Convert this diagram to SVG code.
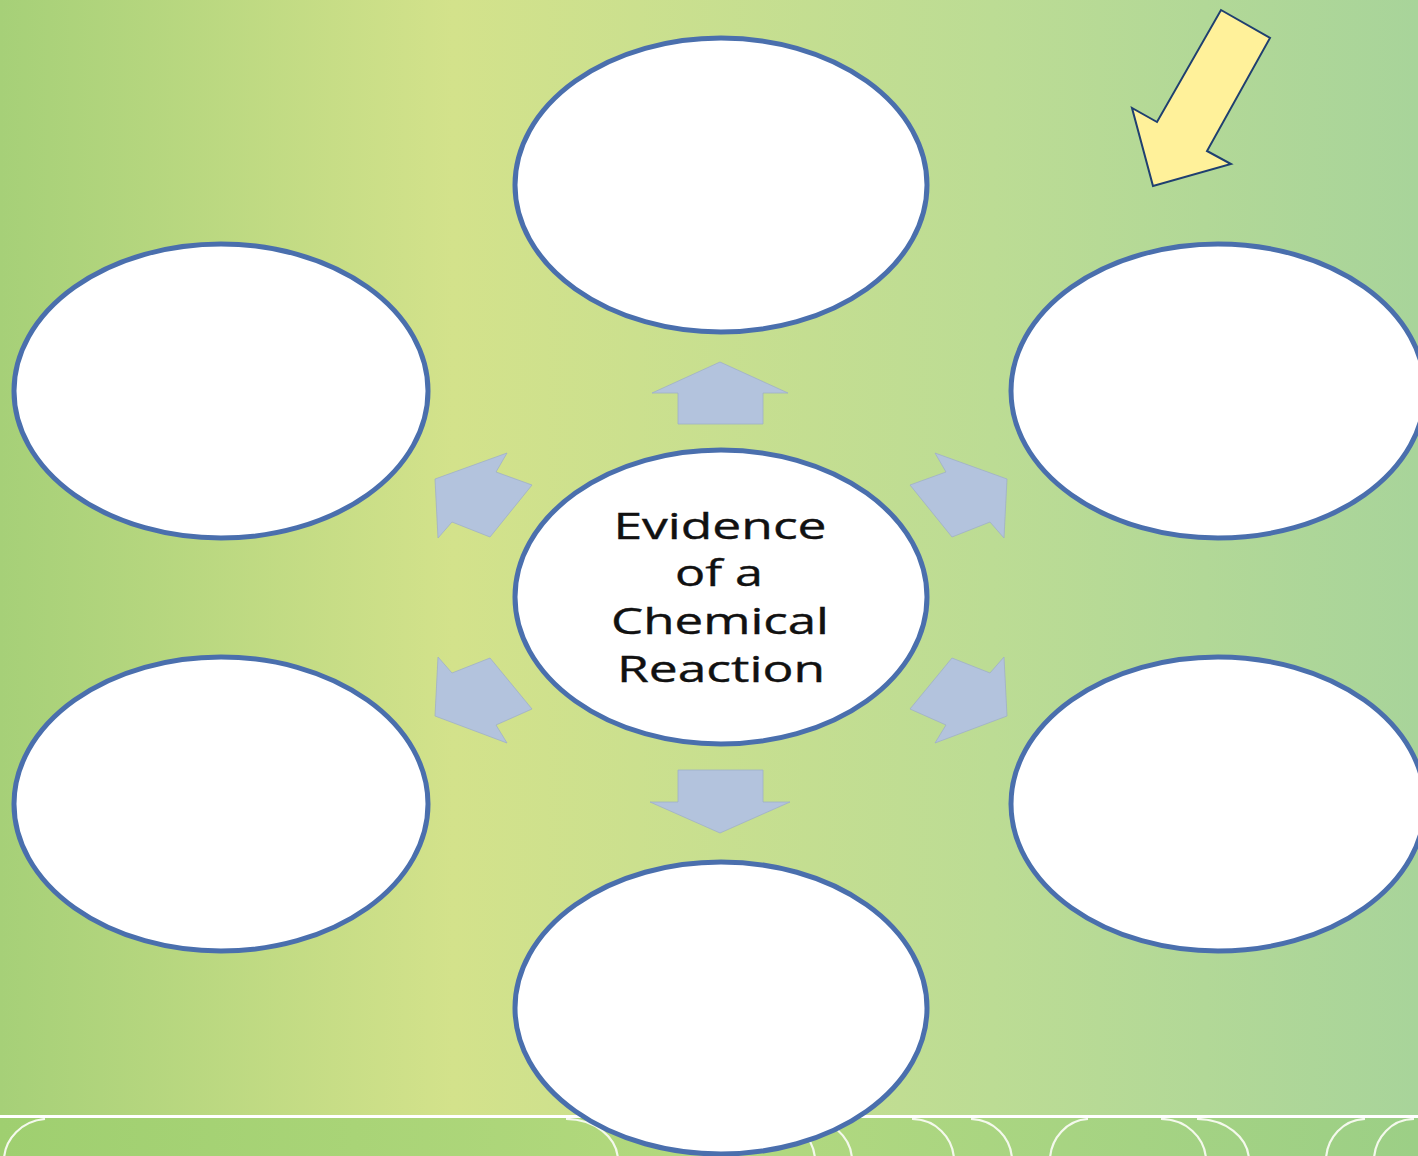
<svg xmlns="http://www.w3.org/2000/svg" width="1418" height="1156" viewBox="0 0 1418 1156">
  <defs>
    <linearGradient id="bg" x1="0" y1="0" x2="1418" y2="0" gradientUnits="userSpaceOnUse">
      <stop offset="0" stop-color="#a6d078"/>
      <stop offset="0.32" stop-color="#d3e28b"/>
      <stop offset="0.7" stop-color="#bcdc94"/>
      <stop offset="1" stop-color="#a8d49a"/>
    </linearGradient>
    <linearGradient id="band" x1="0" y1="0" x2="1418" y2="0" gradientUnits="userSpaceOnUse">
      <stop offset="0" stop-color="#9fcf70"/>
      <stop offset="0.5" stop-color="#b3d97e"/>
      <stop offset="1" stop-color="#9ccf86"/>
    </linearGradient>
    <clipPath id="bandClip">
      <rect x="0" y="1118" width="1418" height="38"/>
    </clipPath>
    <style>
      .node { fill: #ffffff; stroke: #4a6fad; stroke-width: 5; }
      .block { fill: #b3c3dd; stroke: #9fb0c8; stroke-width: 0.8; }
      .arc { fill: none; stroke: #f4f9ec; stroke-width: 2.2; }
      .label { font-family: "Open Sans", "Noto Sans", sans-serif; font-size: 37px; fill: #111111; stroke: #111111; stroke-width: 0.4; text-anchor: middle; }
    </style>
  </defs>

  <!-- background -->
  <rect x="0" y="0" width="1418" height="1156" fill="url(#bg)"/>

  <!-- decorative footer band -->
  <g id="footer">
    <rect x="0" y="1118" width="1418" height="38" fill="url(#band)"/>
    <line x1="0" y1="1116.5" x2="1418" y2="1116.5" stroke="#ffffff" stroke-width="3"/>
    <g clip-path="url(#bandClip)">
      <path class="arc" d="M45 1119 A45 42 0 0 0 4 1160"/>
      <path class="arc" d="M566 1119 A52 42 0 0 1 618 1160"/>
      <path class="arc" d="M770 1119 A45 42 0 0 1 815 1160"/>
      <path class="arc" d="M805 1119 A45 42 0 0 1 852 1160"/>
      <path class="arc" d="M912 1119 A42 42 0 0 1 954 1160"/>
      <path class="arc" d="M971 1119 A42 42 0 0 1 1012 1160"/>
      <path class="arc" d="M1088 1119 A40 42 0 0 0 1050 1160"/>
      <path class="arc" d="M1161 1119 A45 42 0 0 1 1206 1160"/>
      <path class="arc" d="M1197 1119 A52 42 0 0 1 1249 1160"/>
      <path class="arc" d="M1365 1119 A40 42 0 0 0 1326 1160"/>
      <path class="arc" d="M1414 1119 A40 42 0 0 0 1374 1160"/>
    </g>
  </g>

  <!-- block arrows from the centre to each outer node -->
  <g id="connectors">
    <polygon class="block" points="720,362 788,393 763,393 763,424 678,424 678,393 652,393"/>
    <polygon class="block" points="678,770 763,770 763,802 790,802 720,833 650,802 678,802"/>
    <polygon class="block" points="507,453 496,472 532,485 490,537 452,522 438,538 435,479"/>
    <polygon class="block" points="438,657 452,673 490,658 532,709 496,725 507,743 435,716"/>
    <polygon class="block" points="935,453 946,472 910,485 952,537 990,522 1004,538 1007,479"/>
    <polygon class="block" points="1004,657 990,673 952,658 910,709 946,725 935,743 1007,716"/>
  </g>

  <!-- outer nodes -->
  <g id="node-top"><ellipse class="node" cx="721" cy="185" rx="206" ry="147"/></g>
  <g id="node-upper-left"><ellipse class="node" cx="221" cy="391" rx="207" ry="147"/></g>
  <g id="node-upper-right"><ellipse class="node" cx="1218" cy="391" rx="207" ry="147"/></g>
  <g id="node-lower-left"><ellipse class="node" cx="221" cy="804" rx="207" ry="147"/></g>
  <g id="node-lower-right"><ellipse class="node" cx="1218" cy="804" rx="207" ry="147"/></g>
  <g id="node-bottom"><ellipse class="node" cx="721" cy="1008" rx="206" ry="146"/></g>

  <!-- centre node -->
  <g id="node-center">
    <ellipse class="node" cx="721" cy="597" rx="206" ry="147"/>
    <text class="label" x="720" y="539" textLength="213" lengthAdjust="spacingAndGlyphs">Evidence</text>
    <text class="label" x="719" y="586" textLength="88" lengthAdjust="spacingAndGlyphs">of a</text>
    <text class="label" x="720" y="634" textLength="218" lengthAdjust="spacingAndGlyphs">Chemical</text>
    <text class="label" x="721" y="682" textLength="208" lengthAdjust="spacingAndGlyphs">Reaction</text>
  </g>

  <!-- pointer arrow -->
  <g id="pointer">
    <polygon points="1221,10 1270,38 1207,151 1231,164 1153,186 1132,108 1157,122" fill="#fff19a" stroke="#1f3f70" stroke-width="2" stroke-linejoin="miter"/>
  </g>
</svg>
